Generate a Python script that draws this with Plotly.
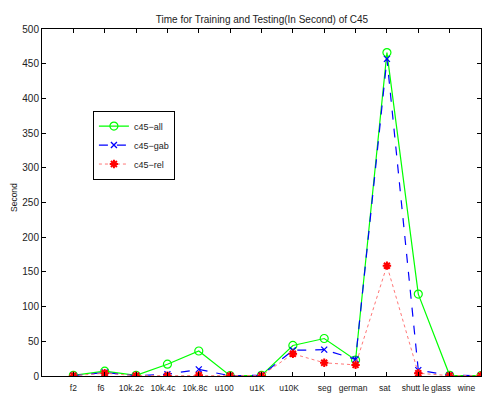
import plotly.graph_objects as go

categories = ["f2", "f6", "10k.2c", "10k.4c", "10k.8c", "u100", "u1K", "u10K",
              "seg", "german", "sat", "shutt le", "glass", "wine"]
c45_all = [1, 7, 1, 17, 36, 0.5, 1, 44, 54, 23, 466, 118, 1, 0.5]
c45_gab = [0.5, 5, 0.5, 2.5, 9.5, 0.3, 1, 37, 38, 24, 457, 8.5, 1, 0.5]
c45_rel = [0.5, 4, 0.5, 0.5, 1, 0.3, 0.5, 32, 19, 16, 159, 4, 0.5, 0.5]
y_ticks = [0, 50, 100, 150, 200, 250, 300, 350, 400, 450, 500]
# where the category labels sit along the x axis (they drift slightly from the ticks)
label_pos = [1.0, 1.88, 2.85, 3.86, 4.88, 5.81, 6.86, 7.88, 9.01, 9.92, 10.93, 11.91, 12.72, 13.54]

x = list(range(1, len(categories) + 1))
FONT = "Liberation Sans, Arial, Helvetica, sans-serif"

fig = go.Figure()
fig.add_trace(go.Scatter(
    x=x, y=c45_all, name="c45\u2212all", mode="lines+markers",
    line=dict(color="#00ff00", width=1.2, dash="solid"),
    marker=dict(symbol="circle-open", size=8, color="#00ff00", line=dict(width=1.2))))
fig.add_trace(go.Scatter(
    x=x, y=c45_gab, name="c45\u2212gab", mode="lines+markers",
    line=dict(color="#0000ff", width=1.2, dash="dash"),
    marker=dict(symbol="x-thin-open", size=6, color="#0000ff", line=dict(width=1.3, color="#0000ff"))))
fig.add_trace(go.Scatter(
    x=x, y=c45_rel, name="c45\u2212rel", mode="lines+markers",
    line=dict(color="#ff7777", width=1, dash="dot"),
    marker=dict(symbol="asterisk-open", size=7, color="#ff0000", line=dict(width=2, color="#ff0000"))))
# invisible helper so the label axis is drawn
fig.add_trace(go.Scatter(x=label_pos, y=[None] * len(label_pos), xaxis="x2",
                         showlegend=False, hoverinfo="skip", mode="markers"))

fig.update_layout(
    width=482, height=394,
    margin=dict(l=42, r=1, t=29, b=18),
    paper_bgcolor="white", plot_bgcolor="white",
    font=dict(family=FONT, size=10, color="#222"),
    title=dict(text="Time for Training and Testing(In Second) of C45",
               x=262 / 482, xanchor="center", y=1 - 19 / 394, yanchor="middle",
               font=dict(size=10, color="#222")),
    showlegend=True,
    legend=dict(x=0.116, y=0.765, xanchor="left", yanchor="top",
                bgcolor="white", bordercolor="black", borderwidth=1,
                font=dict(size=9, color="#222"), tracegroupgap=0,
                itemwidth=30),
    xaxis=dict(range=[0, 14], tickvals=x, ticktext=[""] * len(x),
               ticks="inside", ticklen=4, tickcolor="black", mirror="ticks",
               showline=True, linecolor="black", linewidth=1,
               showgrid=False, zeroline=False, automargin=False),
    xaxis2=dict(range=[0, 14], overlaying="x", anchor="y", side="bottom",
                tickvals=label_pos, ticktext=categories,
                ticks="outside", ticklen=4, tickcolor="rgba(0,0,0,0)", tickangle=0,
                showline=False, showgrid=False, zeroline=False, automargin=False,
                tickfont=dict(size=8.5, color="#222")),
    yaxis=dict(range=[0, 500], tickvals=y_ticks,
               ticks="inside", ticklen=4, tickcolor="black", mirror="ticks",
               showline=True, linecolor="black", linewidth=1,
               showgrid=False, zeroline=False, automargin=False,
               tickfont=dict(size=10, color="#222")),
    annotations=[dict(text="Second", textangle=-90, xref="paper", yref="paper",
                      x=(14 - 42) / 439, y=(376 - 197) / 347, xanchor="center",
                      yanchor="middle", showarrow=False,
                      font=dict(size=8.5, color="#222"))],
)

fig.write_html("out.html")
